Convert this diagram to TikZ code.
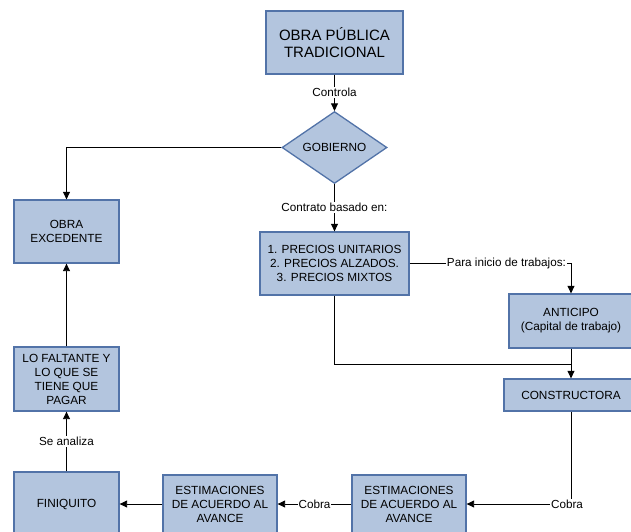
\documentclass[tikz,border=0pt]{standalone}
\usepackage{fontspec}
\setmainfont{Liberation Sans}
\usetikzlibrary{shapes.geometric,arrows.meta}
\definecolor{boxfill}{HTML}{B3C5DE}
\definecolor{boxline}{HTML}{5273A8}
\tikzset{
  box/.style={draw=boxline, fill=boxfill, line width=1.3pt, align=center, inner sep=0pt,
    font=\fontsize{11.8}{14}\selectfont},
  lbl/.style={fill=white, inner sep=1pt, font=\fontsize{11.7}{14}\selectfont},
  conn/.style={draw=black, line width=0.9pt},
  arr/.style={conn, -{Triangle[length=7.5pt,width=7pt]}}
}
\begin{document}
\begin{tikzpicture}[x=1pt,y=-1pt]
\useasboundingbox (0,0) rectangle (631,531);
\begin{scope}
\clip (0,0) rectangle (631,531);
\node[box, minimum width=137pt, minimum height=63pt, font=\fontsize{15}{17.5}\selectfont] (obra) at (334.5,42.5) {OBRA PÚBLICA\\TRADICIONAL};
\node[box, diamond, minimum width=105pt, minimum height=63pt] (gob) at (334.5,147.5) {GOBIERNO};
\node[box, minimum width=105pt, minimum height=63pt] (exced) at (66.5,231.5) {OBRA\\EXCEDENTE};
\node[box, minimum width=149pt, minimum height=63pt] (precios) at (334.5,263.5) {1. PRECIOS UNITARIOS\\2. PRECIOS ALZADOS.\\3. PRECIOS MIXTOS};
\node[box, minimum width=124pt, minimum height=54pt] (anticipo) at (571,321) {ANTICIPO\\(Capital de trabajo)};
\node[box, minimum width=134pt, minimum height=32pt] (constr) at (571,395) {CONSTRUCTORA};
\node[box, minimum width=105pt, minimum height=64pt] (lofalt) at (66.5,379) {LO FALTANTE Y\\LO QUE SE\\TIENE QUE\\PAGAR};
\node[box, minimum width=105pt, minimum height=64pt] (finiq) at (66.5,504) {FINIQUITO};
\node[box, minimum width=114pt, minimum height=58pt] (est1) at (220,504) {ESTIMACIONES\\DE ACUERDO AL\\AVANCE};
\node[box, minimum width=114pt, minimum height=58pt] (est2) at (409,504) {ESTIMACIONES\\DE ACUERDO AL\\AVANCE};
\coordinate (j) at (571,364);

\draw[arr] (obra.south) -- node[lbl]{Controla} (gob.north);
\draw[arr] (gob.west) -| (exced.north);
\draw[arr] (gob.south) -- node[lbl]{Contrato basado en:} (precios.north);
\draw[arr] (precios.east) -| node[lbl, pos=0.3]{Para inicio de trabajos:} (anticipo.north);
\draw[conn] (precios.south) |- (j);
\draw[arr] (anticipo.south) -- (constr.north);
\draw[arr] (constr.south) |- node[lbl, pos=0.5, xshift=-4pt]{Cobra} (est2.east);
\draw[arr] (est2.west) -- node[lbl]{Cobra} (est1.east);
\draw[arr] (est1.west) -- (finiq.east);
\draw[arr] (finiq.north) -- node[lbl]{Se analiza} (lofalt.south);
\draw[arr] (lofalt.north) -- (exced.south);
\end{scope}
\end{tikzpicture}
\end{document}
